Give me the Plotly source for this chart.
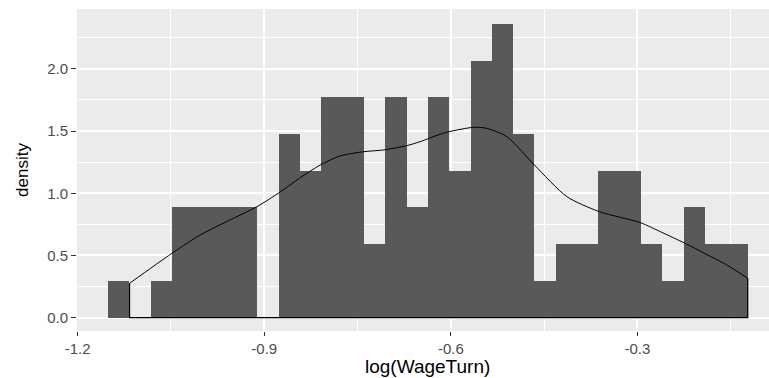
import plotly.graph_objects as go

# Histogram bins (centres, log(WageTurn)) and densities
bin_centers = [-1.1342, -1.0999, -1.0656, -1.0313, -0.9970, -0.9627, -0.9284, -0.8941,
               -0.8599, -0.8256, -0.7913, -0.7570, -0.7227, -0.6884, -0.6541, -0.6198,
               -0.5855, -0.5512, -0.5170, -0.4827, -0.4484, -0.4141, -0.3798, -0.3455,
               -0.3112, -0.2769, -0.2426, -0.2083, -0.1741, -0.1398]
bin_density = [0.295, 0.0, 0.295, 0.886, 0.886, 0.886, 0.886, 0.0,
               1.476, 1.181, 1.771, 1.771, 0.590, 1.771, 0.886, 1.771,
               1.181, 2.066, 2.362, 1.476, 0.295, 0.590, 0.590, 1.181,
               1.181, 0.590, 0.295, 0.886, 0.590, 0.590]
bin_width = 0.03429

# Kernel density curve
dens_x = [-1.1166, -1.050, -1.003, -0.9494, -0.9118, -0.876, -0.8422, -0.8101, -0.778,
          -0.7405, -0.7084, -0.6708, -0.6494, -0.6173, -0.6028, -0.5637, -0.5422, -0.510,
          -0.4657, -0.4136, -0.3612, -0.2953, -0.2609, -0.2235, -0.1902, -0.1565, -0.1227]
dens_y = [0.276, 0.512, 0.665, 0.799, 0.892, 1.005, 1.125, 1.227, 1.300,
          1.334, 1.348, 1.383, 1.415, 1.474, 1.495, 1.530, 1.522, 1.455,
          1.227, 0.973, 0.852, 0.764, 0.686, 0.598, 0.512, 0.424, 0.317]

x_ticks = [-1.2, -0.9, -0.6, -0.3]
x_ticklabels = ["-1.2", "-0.9", "-0.6", "-0.3"]
y_ticks = [0.0, 0.5, 1.0, 1.5, 2.0]
y_ticklabels = ["0.0", "0.5", "1.0", "1.5", "2.0"]

# baseline + end segments of the density area (as ggplot draws its outline)
frame_x = [dens_x[0], dens_x[0], dens_x[-1], dens_x[-1]]
frame_y = [dens_y[0], 0, 0, dens_y[-1]]

fig = go.Figure()
fig.add_trace(go.Bar(x=bin_centers, y=bin_density, width=bin_width,
                     marker=dict(color="#595959", line=dict(width=0)),
                     showlegend=False, hoverinfo="x+y"))
fig.add_trace(go.Scatter(x=frame_x, y=frame_y, mode="lines",
                         line=dict(color="black", width=1.2),
                         showlegend=False, hoverinfo="skip"))
fig.add_trace(go.Scatter(x=dens_x, y=dens_y, mode="lines",
                         line=dict(color="black", width=1, shape="spline", smoothing=0.7),
                         showlegend=False, hoverinfo="skip"))

tick_font = dict(family="Liberation Sans, Arial, sans-serif", size=15, color="#4D4D4D")

fig.update_layout(
    width=769, height=378,
    margin=dict(l=77, r=0, t=9, b=47),
    paper_bgcolor="white",
    plot_bgcolor="#EBEBEB",
    bargap=0,
    font=dict(family="Liberation Sans, Arial, sans-serif", color="black"),
    xaxis=dict(range=[-1.2011, -0.0885], tickmode="array", tickvals=x_ticks,
               ticktext=x_ticklabels, ticks="outside", ticklen=4, tickwidth=1,
               tickcolor="#333333", tickfont=tick_font, showgrid=True,
               gridcolor="white", gridwidth=1.6, zeroline=False, showline=False,
               automargin=False,
               minor=dict(dtick=0.15, tick0=-1.2, showgrid=True, gridcolor="white",
                          gridwidth=0.8, ticks="")),
    yaxis=dict(range=[-0.107, 2.481], tickmode="array", tickvals=y_ticks,
               ticktext=y_ticklabels, ticks="outside", ticklen=5, tickwidth=1,
               tickcolor="#333333", tickfont=tick_font, showgrid=True,
               gridcolor="white", gridwidth=1.6, zeroline=False, showline=False,
               automargin=False,
               minor=dict(dtick=0.25, tick0=0, showgrid=True, gridcolor="white",
                          gridwidth=0.8, ticks="")),
    annotations=[
        dict(text="log(WageTurn)", xref="paper", yref="paper", x=0.506, y=-0.109,
             xanchor="center", yanchor="middle", showarrow=False,
             font=dict(size=19, color="black")),
        dict(text="density", xref="paper", yref="paper", x=-0.0795, y=0.5,
             xanchor="center", yanchor="middle", textangle=-90, showarrow=False,
             font=dict(size=17, color="black")),
    ],
)

fig.write_html("out.html", config={"displayModeBar": False},
               post_script="document.body.style.margin='0';document.body.style.overflow='hidden';")
